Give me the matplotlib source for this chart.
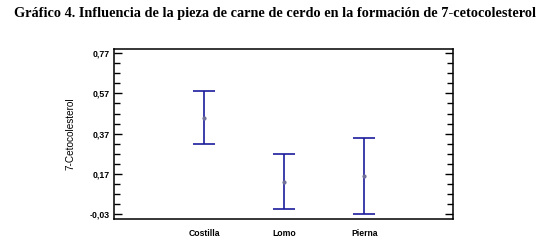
"""Error-bar chart: 7-cetocolesterol by cut of pork."""

import matplotlib

matplotlib.use("Agg")
import matplotlib.pyplot as plt
from matplotlib.ticker import FixedLocator, FuncFormatter

TITLE = "Gráfico 4. Influencia de la pieza de carne de cerdo en la formación de 7-cetocolesterol"
piezas = ["Costilla", "Lomo", "Pierna"]
medias = [0.450, 0.133, 0.160]
semi_intervalo = [0.132, 0.135, 0.187]
y_ticks = [-0.03, 0.17, 0.37, 0.57, 0.77]

LINE = "#1c1c9c"

fig = plt.figure(figsize=(5.44, 2.48), dpi=100)
ax = fig.add_axes([114 / 544, 1 - 219 / 248, 339 / 544, (219 - 49) / 248])

x = list(range(1, len(piezas) + 1))
ax.errorbar(x, medias, yerr=semi_intervalo, fmt="o", ms=2.0, mfc="#70709a", mec="#70709a",
            ecolor=LINE, elinewidth=1.2, capsize=8, capthick=1.2)

ax.set_xlim(-0.125, 4.11)
ax.set_ylim(-0.0525, 0.79)
ax.set_xticks(x)
ax.set_xticklabels(piezas, fontfamily="Liberation Sans", fontweight="bold", fontsize=6.2)
ax.tick_params(axis="x", length=0, pad=7)

ax.yaxis.set_major_locator(FixedLocator(y_ticks))
ax.yaxis.set_minor_locator(FixedLocator([round(-0.03 + 0.05 * i, 2) for i in range(17)]))
ax.yaxis.set_major_formatter(FuncFormatter(lambda v, _: f"{v:.2f}".replace(".", ",")))
ax.tick_params(axis="y", which="both", direction="in", right=True, width=1)
ax.tick_params(axis="y", which="major", length=6, pad=3)
ax.tick_params(axis="y", which="minor", length=4)
for lbl in ax.get_yticklabels():
    lbl.set_fontfamily("Liberation Sans")
    lbl.set_fontweight("bold")
    lbl.set_fontsize(6.3)

for s in ax.spines.values():
    s.set_linewidth(1.1)

ax.set_ylabel("7-Cetocolesterol", fontfamily="Liberation Sans", fontsize=7.2, labelpad=10)

fig.text(0.5 * (13 + 536) / 544, 1 - 14 / 248, TITLE, ha="center", va="center",
         fontfamily="Liberation Serif", fontweight="bold", fontsize=10.3)

fig.savefig("out.png", dpi=100)
